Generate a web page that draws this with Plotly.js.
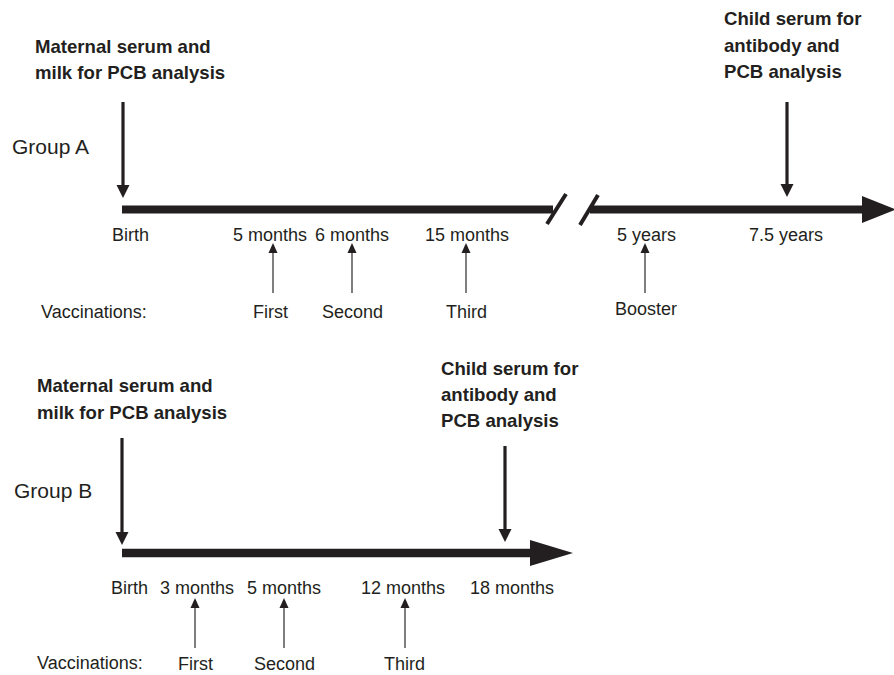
<!DOCTYPE html>
<html>
<head>
<meta charset="utf-8">
<script src="https://cdn.plot.ly/plotly-3.0.1.min.js"></script>
<style>html,body{margin:0;padding:0;background:#fff;}#chart{width:894px;height:675px;}</style>
</head>
<body>
<div id="chart"></div>
<script>
// ---- Diagram content (text) ----
const groupNames = ['Group A', 'Group B'];
const maternalText = ['Maternal serum and', 'milk for PCB analysis'];
const childText = ['Child serum for', 'antibody and', 'PCB analysis'];
const vaccTitle = 'Vaccinations:';

const groupA_times = ['Birth', '5 months', '6 months', '15 months', '5 years', '7.5 years'];
const groupA_vacc = ['First', 'Second', 'Third', 'Booster'];
const groupB_times = ['Birth', '3 months', '5 months', '12 months', '18 months'];
const groupB_vacc = ['First', 'Second', 'Third'];

// ---- Layout positions (diagram pixel space) ----
const groupA_timeX = [130, 270, 352, 467, 646, 786];
const groupA_vaccX = [273, 352, 466, 645];
const groupA_vaccLabelX = [270, 352, 466, 646];
const groupB_timeX = [129, 197, 284, 403, 512];
const groupB_vaccX = [195, 284, 405];
const groupB_vaccLabelX = [195, 284, 404];

const INK = '#231f20';
const THIN = '#3a3a3a';
const FONT = 'Liberation Sans, Arial, Helvetica, sans-serif';

const shapes = [];
const annotations = [];

function line(x0, y0, x1, y1, w, c) {
  shapes.push({type: 'line', xref: 'x', yref: 'y', x0, y0, x1, y1,
    line: {color: c || INK, width: w}});
}
function tri(pts, c) {
  const p = 'M' + pts.map(q => q[0] + ',' + q[1]).join(' L') + ' Z';
  shapes.push({type: 'path', xref: 'x', yref: 'y', path: p,
    fillcolor: c || INK, line: {color: c || INK, width: 0}});
}
function downArrow(x, top, tip) {
  line(x, top, x, tip - 10, 3.2);
  tri([[x - 6.5, tip - 13], [x + 6.5, tip - 13], [x, tip]]);
}
function upArrow(x, bottom, tip) {
  line(x, bottom, x, tip + 8, 1.3, THIN);
  tri([[x - 4.5, tip + 10], [x + 4.5, tip + 10], [x, tip]], INK);
}
function text(t, x, y, opts) {
  annotations.push(Object.assign({
    text: t, x, y, xref: 'x', yref: 'y', showarrow: false,
    xanchor: 'center', yanchor: 'middle',
    font: {family: FONT, size: 18, color: INK}
  }, opts || {}));
}
function bold(lines, x, ys) {
  lines.forEach((t, i) => text('<b>' + t + '</b>', x, ys[i],
    {xanchor: 'left', font: {family: FONT, size: 18.6, color: INK}}));
}

// ===== Group A =====
const yA = 209.5;
line(122, yA, 553, yA, 8);
line(547, 224, 566, 194, 4);
line(580, 225, 598, 195, 4);
line(590, yA, 866, yA, 8);
tri([[862, 196], [862, 223], [896, yA]]);
downArrow(123, 102, 198);
downArrow(787, 102, 197);
bold(maternalText, 33, [46, 72]);
bold(childText, 722, [18, 45, 71]);
text(groupNames[0], 10, 146, {xanchor: 'left', font: {family: FONT, size: 21, color: INK}});
groupA_times.forEach((t, i) => text(t, groupA_timeX[i], 235));
groupA_vaccX.forEach(x => upArrow(x, 293, 243));
groupA_vacc.forEach((t, i) => text(t, groupA_vaccLabelX[i], i === 3 ? 309 : 312));
text(vaccTitle, 39, 312, {xanchor: 'left'});

// ===== Group B =====
const yB = 553;
line(122, yB, 534, yB, 8.5);
tri([[530, 540], [530, 566], [573, yB]]);
downArrow(122, 438, 545);
downArrow(505, 446, 542);
bold(maternalText, 35, [385, 412]);
bold(childText, 439, [368, 394, 420]);
text(groupNames[1], 12, 490, {xanchor: 'left', font: {family: FONT, size: 21, color: INK}});
groupB_times.forEach((t, i) => text(t, groupB_timeX[i], 588));
groupB_vaccX.forEach(x => upArrow(x, 648, 598));
groupB_vacc.forEach((t, i) => text(t, groupB_vaccLabelX[i], 664));
text(vaccTitle, 35, 663, {xanchor: 'left'});

const layout = {
  width: 894, height: 675,
  margin: {l: 0, r: 0, t: 0, b: 0, pad: 0},
  paper_bgcolor: '#ffffff', plot_bgcolor: '#ffffff',
  showlegend: false,
  xaxis: {range: [0, 894], visible: false, fixedrange: true},
  yaxis: {range: [675, 0], visible: false, fixedrange: true},
  shapes, annotations
};
Plotly.newPlot('chart', [], layout, {staticPlot: true, displayModeBar: false});
</script>
</body>
</html>
